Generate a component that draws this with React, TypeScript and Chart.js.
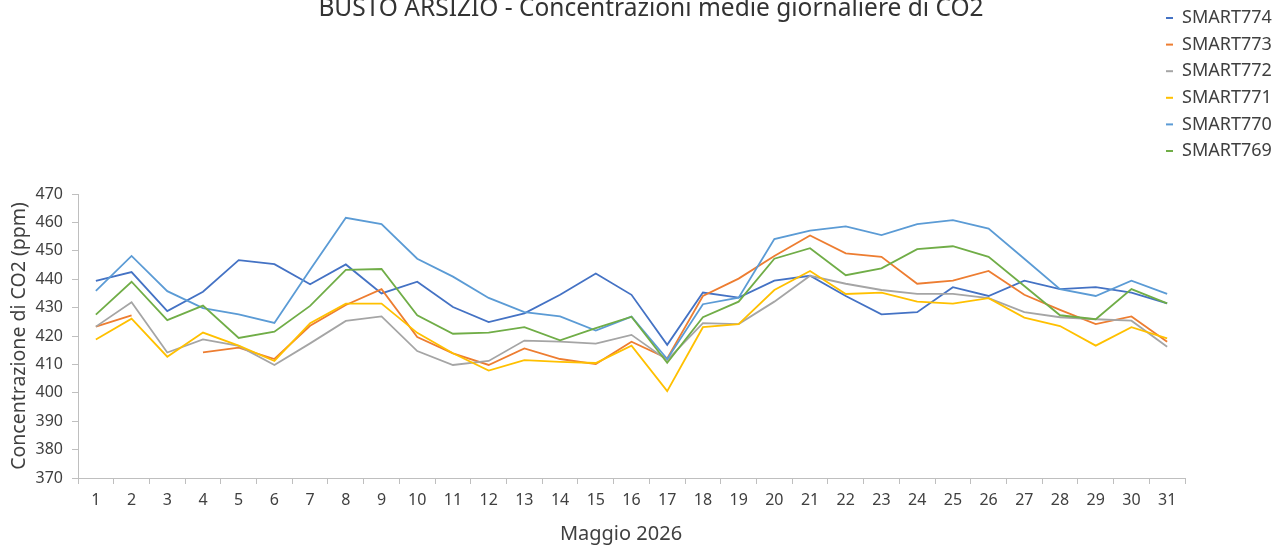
import React, { useEffect, useRef } from "react";
import { Chart, registerables } from "chart.js";

Chart.register(...registerables);

const TITLE = "BUSTO ARSIZIO - Concentrazioni medie giornaliere di CO2";
const X_TITLE = "Maggio 2026";
const Y_TITLE = "Concentrazione di CO2 (ppm)";

const days: string[] = Array.from({ length: 31 }, (_, i) => String(i + 1));

const seriesNames = ["SMART774", "SMART773", "SMART772", "SMART771", "SMART770", "SMART769"];
const seriesColors = ["#4472C4", "#ED7D31", "#A5A5A5", "#FFC000", "#5B9BD5", "#70AD47"];

const smart774 = [439.4, 442.5, 428.8, 435.6, 446.7, 445.3, 438.2, 445.2, 435.0, 439.1, 430.2, 424.9, 428.0, 434.5, 442.0, 434.5, 416.9, 435.3, 433.5, 439.5, 441.2, 434.1, 427.6, 428.4, 437.2, 434.1, 439.5, 436.5, 437.2, 435.3, 431.5];
const smart773 = [423.3, 427.3, null, 414.2, 415.9, 411.9, 423.6, 430.9, 436.5, 419.6, 413.9, 409.8, 415.6, 411.9, 410.1, 418.0, 412.1, 434.1, 440.2, 448.2, 455.4, 449.1, 447.9, 438.4, 439.5, 442.9, 434.5, 429.2, 424.2, 426.9, 418.0];
const smart772 = [423.3, 431.9, 414.2, 418.8, 416.5, 409.8, 417.4, 425.3, 426.9, 414.7, 409.8, 411.2, 418.4, 418.0, 417.3, 420.4, 411.5, 424.5, 424.2, 432.1, 441.2, 438.4, 436.2, 434.8, 434.8, 433.3, 428.4, 426.6, 425.9, 425.4, 416.2];
const smart771 = [418.8, 426.1, 412.7, 421.2, 416.6, 411.2, 424.5, 431.4, 431.4, 421.1, 413.9, 407.8, 411.5, 410.9, 410.5, 416.6, 400.6, 423.1, 424.2, 436.2, 442.9, 434.8, 435.3, 432.1, 431.4, 433.3, 426.5, 423.5, 416.6, 423.1, 419.2];
const smart770 = [435.9, 448.2, 435.8, 429.8, 427.6, 424.6, 443.3, 461.6, 459.4, 447.2, 440.9, 433.4, 428.4, 426.9, 421.9, 426.8, 411.9, 431.2, 433.5, 454.1, 457.1, 458.6, 455.5, 459.4, 460.8, 457.8, 447.2, 436.5, 434.1, 439.5, 434.8];
const smart769 = [427.5, 439.1, 425.6, 430.7, 419.3, 421.5, 430.6, 443.3, 443.6, 427.3, 420.8, 421.2, 423.1, 418.5, 422.8, 426.8, 410.6, 426.6, 432.1, 447.2, 450.9, 441.4, 443.8, 450.6, 451.6, 447.9, 437.6, 427.3, 425.9, 436.5, 431.5];

const seriesValues = [smart774, smart773, smart772, smart771, smart770, smart769];

const Y_MIN = 370;
const Y_MAX = 470;
const Y_STEP = 10;

const FONT = '"Noto Sans", "Open Sans", sans-serif';

const overlayPlugin = {
  id: "overlay",
  afterDraw(chart: any) {
    const ctx = chart.ctx;
    ctx.save();
    ctx.fillStyle = "#333333";
    ctx.font = `24.5px ${FONT}`;
    ctx.textAlign = "center";
    ctx.textBaseline = "alphabetic";
    ctx.fillText(TITLE, 651, 16);

    ctx.font = `18px ${FONT}`;
    ctx.textAlign = "left";
    ctx.textBaseline = "middle";
    chart.data.datasets.forEach((ds: any, i: number) => {
      const y = 18 + i * 26.6;
      ctx.strokeStyle = ds.borderColor;
      ctx.lineWidth = 2;
      ctx.beginPath();
      ctx.moveTo(1166, y);
      ctx.lineTo(1173, y);
      ctx.stroke();
      ctx.fillStyle = "#404040";
      ctx.fillText(ds.label, 1182, y);
    });

    ctx.fillStyle = "#404040";
    ctx.textAlign = "center";
    ctx.textBaseline = "middle";
    ctx.font = `20px ${FONT}`;
    ctx.fillText(X_TITLE, 621, 534);
    ctx.restore();
  },
};

export default function App() {
  const canvasRef = useRef<HTMLCanvasElement | null>(null);

  useEffect(() => {
    if (!canvasRef.current) return;
    const chart = new Chart(canvasRef.current, {
      type: "line",
      data: {
        labels: days,
        datasets: seriesNames.map((name, i) => ({
          label: name,
          data: seriesValues[i],
          borderColor: seriesColors[i],
          backgroundColor: seriesColors[i],
          borderWidth: 1.8,
          pointRadius: 0,
          tension: 0,
          spanGaps: false,
          fill: false,
          order: seriesNames.length - 1 - i,
        })),
      },
      options: {
        animation: false,
        responsive: false,
        maintainAspectRatio: false,
        layout: { padding: { left: 0, right: 96, top: 194, bottom: 0 } },
        plugins: {
          legend: { display: false },
          title: { display: false },
          tooltip: { enabled: false },
        },
        scales: {
          x: {
            type: "category",
            offset: true,
            grid: {
              display: true,
              drawOnChartArea: false,
              drawTicks: true,
              tickLength: 6,
              color: "#BFBFBF",
              offset: true,
            },
            border: { display: true, color: "#BFBFBF", width: 1 },
            ticks: {
              color: "#404040",
              font: { family: FONT, size: 16 },
              padding: 7,
              maxRotation: 0,
              autoSkip: false,
            },
            afterFit(scale: any) {
              scale.height = 68;
            },
          },
          y: {
            min: Y_MIN,
            max: Y_MAX,
            grid: {
              display: true,
              drawOnChartArea: false,
              drawTicks: true,
              tickLength: 6,
              color: "#BFBFBF",
            },
            border: { display: true, color: "#BFBFBF", width: 1 },
            ticks: {
              stepSize: Y_STEP,
              color: "#404040",
              font: { family: FONT, size: 16 },
              padding: 9,
            },
            title: {
              display: true,
              text: Y_TITLE,
              color: "#404040",
              font: { family: FONT, size: 19.5 },
              padding: { top: 8, bottom: 0 },
            },
            afterFit(scale: any) {
              scale.width = 78;
            },
          },
        },
      },
      plugins: [overlayPlugin],
    });
    return () => chart.destroy();
  }, []);

  return (
    <div style={{ position: "absolute", left: 0, top: 0, width: 1281, height: 546, background: "#ffffff" }}>
      <canvas ref={canvasRef} width={1281} height={546} style={{ display: "block" }} />
    </div>
  );
}
